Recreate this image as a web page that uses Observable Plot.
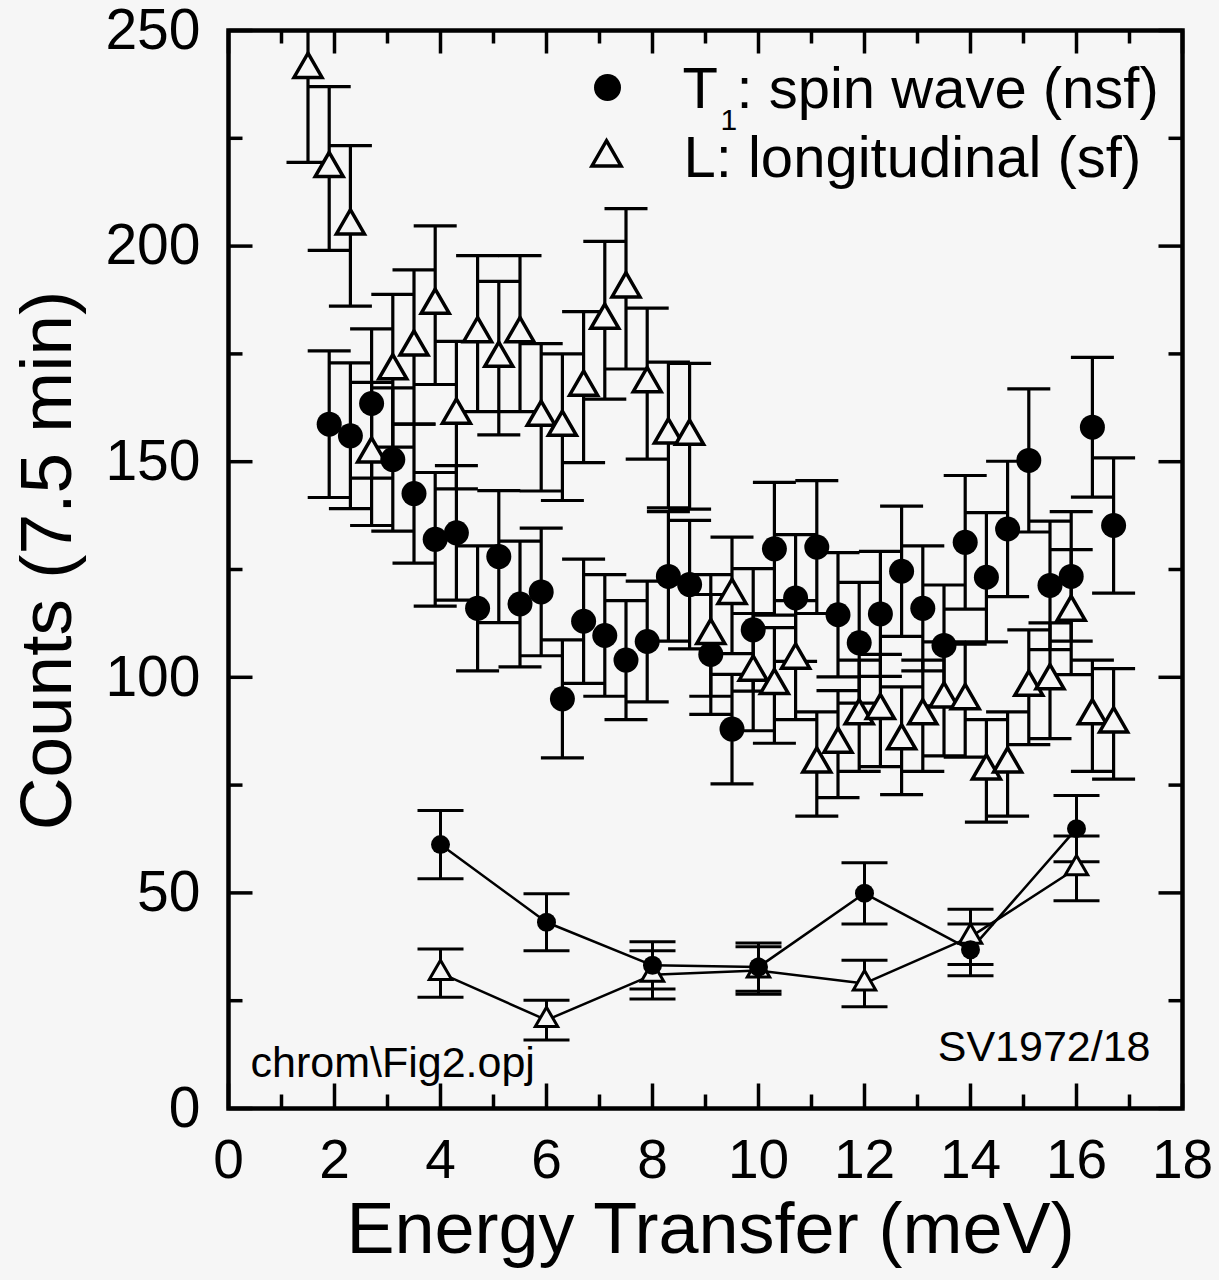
<!DOCTYPE html>
<html>
<head>
<meta charset="utf-8">
<script src="https://cdn.jsdelivr.net/npm/d3@7"></script>
<script src="https://cdn.jsdelivr.net/npm/@observablehq/plot@0.6"></script>
<style>
  html, body { margin: 0; padding: 0; background: #f6f6f6; }
  #chart { width: 1219px; height: 1280px; }
</style>
</head>
<body>
<div id="chart"></div>
<script>
// ---- Data ----
// T1: spin wave (nsf) — filled circles
const xT1 = [1.9,2.3,2.7,3.1,3.5,3.9,4.3,4.7,5.1,5.5,5.9,6.3,6.7,7.1,7.5,7.9,8.3,8.7,9.1,9.5,
             9.9,10.3,10.7,11.1,11.5,11.9,12.3,12.7,13.1,13.5,13.9,14.3,14.7,15.1,15.5,15.9,16.3,16.7];
const yT1 = [158.7,156,163.5,150.5,142.6,132,133.5,116,128,117,119.8,95,113,109.7,104,108.3,123.4,121.5,105.3,88,
             111,129.8,118.4,130.2,114.5,108,114.7,124.6,116,107.4,131.3,123.2,134.4,150.3,121.3,123.4,158,135.2];
const eT1 = [17,16.9,17.3,16.6,16.1,15.5,15.6,14.5,15.3,14.6,14.8,13.7,14.4,14.1,13.8,14,15,14.9,13.9,12.7,
             14.2,15.4,14.7,15.4,14.4,14,14.5,15.1,14.5,14,15.5,15,15.7,16.6,14.9,15,16.2,15.7];

// L: longitudinal (sf) — open triangles
const xL = [1.5,1.9,2.3,2.7,3.1,3.5,3.9,4.3,4.7,5.1,5.5,5.9,6.3,6.7,7.1,7.5,7.9,8.3,8.7,9.1,
            9.5,9.9,10.3,10.7,11.1,11.5,11.9,12.3,12.7,13.1,13.5,13.9,14.3,14.7,15.1,15.5,15.9,16.3,16.7];
const yL = [241,218,204.7,151.8,171.1,176.6,186.3,160.8,179.7,174,179.7,160.3,158,167.3,182.8,190.1,168.1,156.2,155.9,109.7,
            119,101.2,98.1,104,79.9,84.5,91.1,92.3,85.3,91.1,95,94.6,78.3,79.9,97.7,99.2,115.1,91.1,89.2];
const eL = [21.6,19,18.6,16.6,17.7,17.9,18.4,17.1,18.1,17.8,18.1,17.1,17,17.5,18.3,18.6,17.5,16.9,16.9,14.1,
            13.5,13.6,13.4,13.8,12.1,12.4,12.9,13,12.5,12.9,13.2,13.1,11.9,12.1,13.3,13.4,14.5,12.9,12.8];

// Lower connected series
const xLow = [4,6,8,10,12,14,16];
const yLowT1 = [61.2,43.2,33.2,32.8,49.9,36.8,64.9];
const eLowT1 = [7.9,6.6,5.5,5.6,7.1,6,7.7];
const yLowL = [31.4,20.5,31,32,29,39.8,55.7];
const eLowL = [5.6,4.6,5.6,5.5,5.4,6.4,7.5];

// Axis ticks
const xMajor = [0,2,4,6,8,10,12,14,16,18];
const xMinor = [1,3,5,7,9,11,13,15,17];
const yMajor = [0,50,100,150,200,250];
const yMinor = [25,75,125,175,225];

// Texts
const xLabel = "Energy Transfer (meV)";
const yLabel = "Counts (7.5 min)";
const legendT1 = ["T", "1", ": spin wave (nsf)"];
const legendL = "L: longitudinal (sf)";
const noteLeft = "chrom\\Fig2.opj";
const noteRight = "SV1972/18";

// ---- Build tables ----
const t1 = xT1.map((x, i) => ({x, y: yT1[i], e: eT1[i]}));
const lo = xL.map((x, i) => ({x, y: yL[i], e: eL[i]}));
const lowT1 = xLow.map((x, i) => ({x, y: yLowT1[i], e: eLowT1[i]}));
const lowL = xLow.map((x, i) => ({x, y: yLowL[i], e: eLowL[i]}));
const caps = (arr) => arr.flatMap(d => [{x: d.x, y: d.y + d.e}, {x: d.x, y: d.y - d.e}]);

// custom line symbols (length = r in px)
const len = (size) => Math.sqrt(size / Math.PI);
const hBar = {draw(c, s) { const r = len(s); c.moveTo(-r, 0); c.lineTo(r, 0); }};
const tUp = {draw(c, s) { const r = len(s); c.moveTo(0, 0); c.lineTo(0, -r); }};
const tDown = {draw(c, s) { const r = len(s); c.moveTo(0, 0); c.lineTo(0, r); }};
const tRight = {draw(c, s) { const r = len(s); c.moveTo(0, 0); c.lineTo(r, 0); }};
const tLeft = {draw(c, s) { const r = len(s); c.moveTo(0, 0); c.lineTo(-r, 0); }};

const BG = "#f6f6f6";
const FONT = "'Liberation Sans', Arial, Helvetica, sans-serif";
const tickStyle = {stroke: "black", strokeWidth: 3.5, fill: "none"};

const chart = Plot.plot({
  width: 1219,
  height: 1280,
  marginLeft: 228,
  marginRight: 37,
  marginTop: 30,
  marginBottom: 172,
  style: {fontFamily: FONT, background: BG, color: "black", overflow: "visible"},
  x: {domain: [0, 18]},
  y: {domain: [0, 250]},
  marks: [
    Plot.axisX({ticks: xMajor, tickSize: 0, tickPadding: 30, fontSize: 55, label: null, tickFormat: d => String(d)}),
    Plot.axisY({ticks: yMajor, tickSize: 0, tickPadding: 28, fontSize: 57, label: null, tickFormat: d => String(d)}),

    // inward ticks on all four sides
    Plot.dot(xMajor, {x: d => d, y: 0, symbol: tUp, r: 25, ...tickStyle}),
    Plot.dot(xMinor, {x: d => d, y: 0, symbol: tUp, r: 14, ...tickStyle}),
    Plot.dot(xMajor, {x: d => d, y: 250, symbol: tDown, r: 23, ...tickStyle}),
    Plot.dot(xMinor, {x: d => d, y: 250, symbol: tDown, r: 13, ...tickStyle}),
    Plot.dot(yMajor, {x: 0, y: d => d, symbol: tRight, r: 24, ...tickStyle}),
    Plot.dot(yMinor, {x: 0, y: d => d, symbol: tRight, r: 14, ...tickStyle}),
    Plot.dot(yMajor, {x: 18, y: d => d, symbol: tLeft, r: 24, ...tickStyle}),
    Plot.dot(yMinor, {x: 18, y: d => d, symbol: tLeft, r: 14, ...tickStyle}),

    // error bars
    Plot.ruleX(t1, {x: "x", y1: d => d.y - d.e, y2: d => d.y + d.e, stroke: "black", strokeWidth: 3.2, clip: true}),
    Plot.ruleX(lo, {x: "x", y1: d => d.y - d.e, y2: d => d.y + d.e, stroke: "black", strokeWidth: 3.2, clip: true}),
    Plot.dot(caps(t1), {x: "x", y: "y", symbol: hBar, r: 21.5, stroke: "black", strokeWidth: 3.2, fill: "none", clip: true}),
    Plot.dot(caps(lo), {x: "x", y: "y", symbol: hBar, r: 21.5, stroke: "black", strokeWidth: 3.2, fill: "none", clip: true}),
    Plot.ruleX(lowT1, {x: "x", y1: d => d.y - d.e, y2: d => d.y + d.e, stroke: "black", strokeWidth: 3}),
    Plot.ruleX(lowL, {x: "x", y1: d => d.y - d.e, y2: d => d.y + d.e, stroke: "black", strokeWidth: 3}),
    Plot.dot(caps(lowT1), {x: "x", y: "y", symbol: hBar, r: 23, stroke: "black", strokeWidth: 3, fill: "none"}),
    Plot.dot(caps(lowL), {x: "x", y: "y", symbol: hBar, r: 23, stroke: "black", strokeWidth: 3, fill: "none"}),

    // connecting lines of the lower series
    Plot.line(lowL, {x: "x", y: "y", stroke: "black", strokeWidth: 2.5}),
    Plot.line(lowT1, {x: "x", y: "y", stroke: "black", strokeWidth: 2.5}),

    // markers
    Plot.dot(lo, {x: "x", y: "y", symbol: "triangle", r: 10.4, fill: BG, stroke: "black", strokeWidth: 3.5}),
    Plot.dot(lowL, {x: "x", y: "y", symbol: "triangle", r: 8.3, fill: BG, stroke: "black", strokeWidth: 3}),
    Plot.dot(t1, {x: "x", y: "y", r: 12.5, fill: "black", stroke: "none"}),
    Plot.dot(lowT1, {x: "x", y: "y", r: 9.5, fill: "black", stroke: "none"}),

    Plot.frame({stroke: "black", strokeWidth: 4.5}),

    // legend (inside plot, top right)
    Plot.dot([0], {frameAnchor: "top-left", dx: 379, dy: 57, r: 13.5, fill: "black", stroke: "none"}),
    Plot.dot([0], {frameAnchor: "top-left", dx: 378, dy: 127, symbol: "triangle", r: 10.8, fill: BG, stroke: "black", strokeWidth: 3.5}),
    Plot.text([legendT1[0]], {frameAnchor: "top-left", dx: 454, dy: 59.4, textAnchor: "start", lineAnchor: "middle", fontSize: 58}),
    Plot.text([legendT1[1]], {frameAnchor: "top-left", dx: 492, dy: 90, textAnchor: "start", lineAnchor: "middle", fontSize: 30}),
    Plot.text([legendT1[2]], {frameAnchor: "top-left", dx: 508, dy: 59.4, textAnchor: "start", lineAnchor: "middle", fontSize: 58}),
    Plot.text([legendL], {frameAnchor: "top-left", dx: 455, dy: 127.9, textAnchor: "start", lineAnchor: "middle", fontSize: 58}),

    // notes
    Plot.text([noteLeft], {frameAnchor: "bottom-left", dx: 22, dy: -45, textAnchor: "start", lineAnchor: "middle", fontSize: 43}),
    Plot.text([noteRight], {frameAnchor: "bottom-right", dx: -32, dy: -61, textAnchor: "end", lineAnchor: "middle", fontSize: 43}),

    // axis titles
    Plot.text([xLabel], {frameAnchor: "bottom", dx: 5, dy: 121, textAnchor: "middle", lineAnchor: "middle", fontSize: 72}),
    Plot.text([yLabel], {frameAnchor: "left", dx: -181, dy: -9, rotate: -90, textAnchor: "middle", lineAnchor: "middle", fontSize: 73})
  ]
});

document.getElementById("chart").appendChild(chart);
</script>
</body>
</html>
